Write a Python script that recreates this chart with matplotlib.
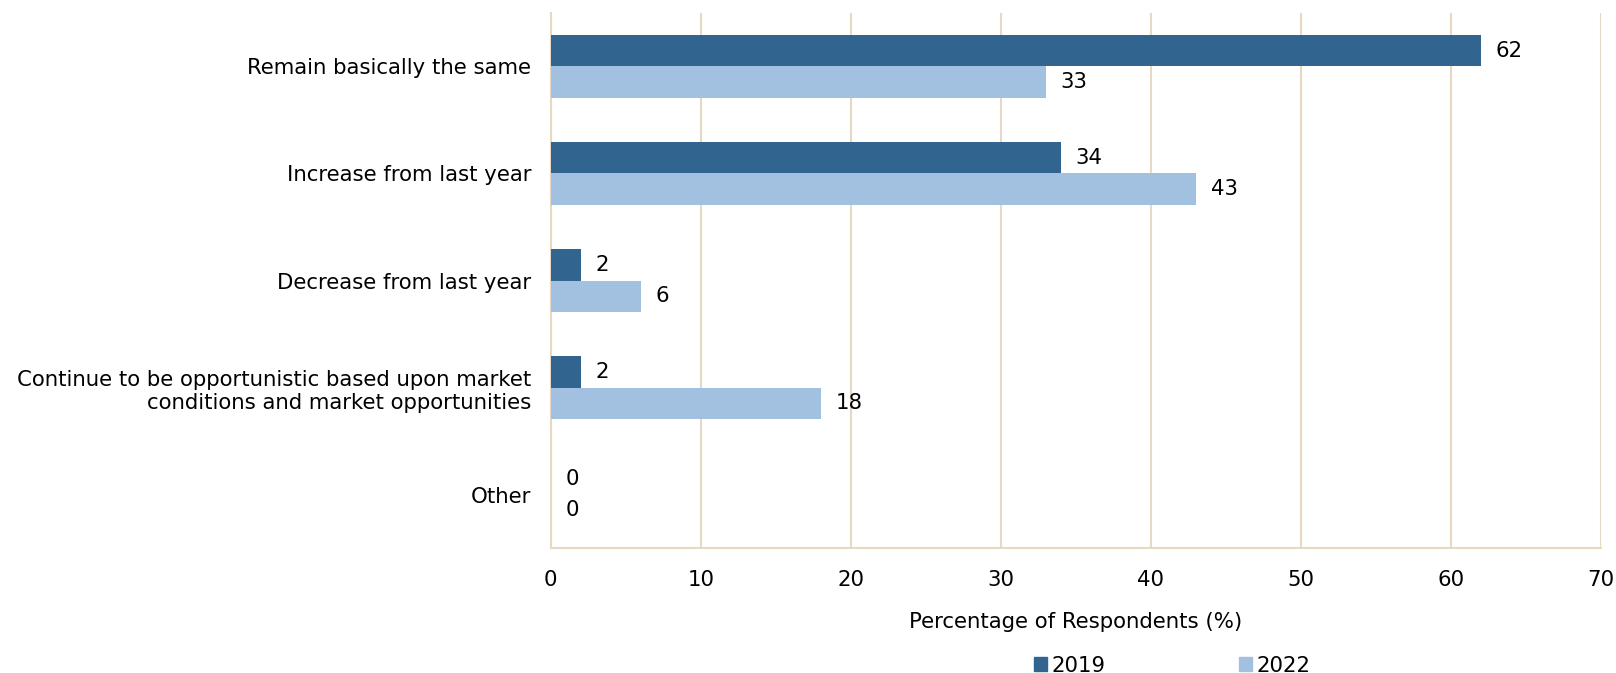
import numpy as np
import matplotlib.pyplot as plt
from matplotlib.patches import Patch

# Survey responses, share of respondents per answer
categories = [
    "Remain basically the same",
    "Increase from last year",
    "Decrease from last year",
    "Continue to be opportunistic based upon market\nconditions and market opportunities",
    "Other",
]
vals_2019 = [62, 34, 2, 2, 0]
vals_2022 = [33, 43, 6, 18, 0]
years = ["2019", "2022"]

DARK = "#326490"
LIGHT = "#a2c0df"
GRID = "#e6d8c3"
FS = 15.3

plt.rcParams["font.family"] = ["DejaVu Sans"]

fig = plt.figure(figsize=(16.16, 6.73), dpi=100)
ax = fig.add_axes([0.3408, 0.1857, 0.6497, 0.795])

y = np.arange(len(categories))
h = 0.29
b1 = ax.barh(y - h / 2, vals_2019, height=h, color=DARK, zorder=3)
b2 = ax.barh(y + h / 2, vals_2022, height=h, color=LIGHT, zorder=3)

for bars, vals in ((b1, vals_2019), (b2, vals_2022)):
    for bar, v in zip(bars, vals):
        ax.text(v + 1.0, bar.get_y() + bar.get_height() / 2, f"{v}",
                va="center", ha="left", fontsize=FS, color="black")

ax.set_xlim(0, 70)
ax.set_ylim(len(categories) - 0.5, -0.5)
ax.set_xticks(range(0, 71, 10))
ax.set_yticks(y)
ax.set_yticklabels(categories, fontsize=FS)
ax.tick_params(axis="x", labelsize=FS, length=0, pad=16)
ax.tick_params(axis="y", length=0, pad=14)
for lbl in ax.get_yticklabels():
    lbl.set_multialignment("right")

ax.grid(axis="x", color=GRID, linewidth=1.5, zorder=0)
ax.set_axisbelow(True)
for side in ("top", "right"):
    ax.spines[side].set_visible(False)
for side in ("left", "bottom"):
    ax.spines[side].set_color(GRID)
    ax.spines[side].set_linewidth(1.5)

ax.set_xlabel("Percentage of Respondents (%)", fontsize=FS, labelpad=16)

handles = [Patch(color=DARK), Patch(color=LIGHT)]
fig.legend(handles, years, loc="center", bbox_to_anchor=(0.7255, 0.011),
           ncol=2, frameon=False, fontsize=FS, handlelength=0.6,
           handleheight=0.6, handletextpad=0.2, columnspacing=6.3)

fig.savefig("out.png", dpi=100)
